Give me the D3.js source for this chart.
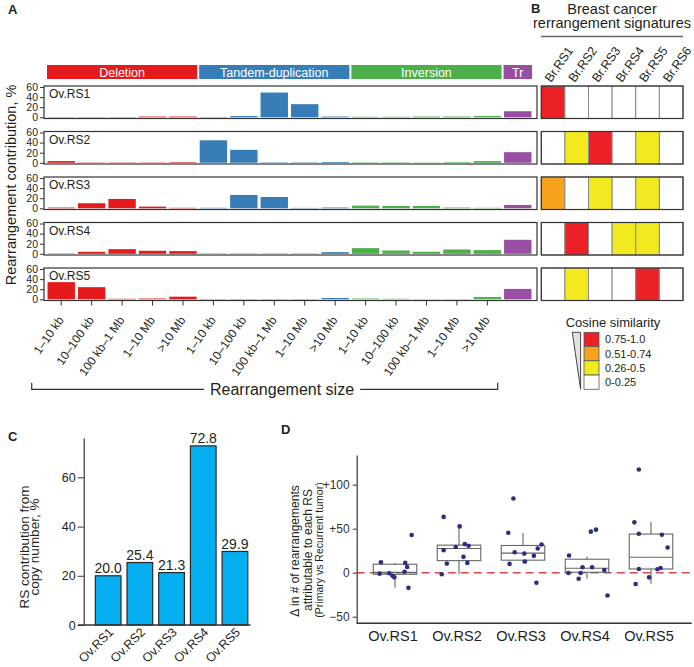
<!DOCTYPE html>
<html><head><meta charset="utf-8">
<script src="https://cdn.jsdelivr.net/npm/d3@7"></script>
<style>
body{margin:0;background:#fff}
svg{display:block}
text{font-family:"Liberation Sans",Arial,Helvetica,sans-serif;fill:#231f20}
</style>
</head><body>
<svg id="chart" width="694" height="667"></svg>
<script>
// ---------------- DATA ----------------
const signatures = ["Ov.RS1","Ov.RS2","Ov.RS3","Ov.RS4","Ov.RS5"];
const rearrTypes = ["Deletion","Tandem-duplication","Inversion","Tr"];
const sizeBins = ["1–10 kb","10–100 kb","100 kb–1 Mb","1–10 Mb",">10 Mb"];
const typeColors = ["#e41a1c","#377eb8","#4daf4a","#984ea3"];

// Panel A: contribution (%) — 5 deletion, 5 tandem-dup, 5 inversion, 1 translocation
const contribRS1 = [0.6,0.6,0.6,1.5,1.5, 0.6,2.5,49,26,1.5, 1,1,1.5,1.5,2.5, 12];
const contribRS2 = [3.4,0.6,0.6,0.6,1.2, 44.6,25.7,0.8,0.8,1.5, 0.8,0.8,0.6,1.2,3.4, 21];
const contribRS3 = [1.5,10,18.5,3.3,1, 1,26.4,22.4,0.8,1.5, 5.3,4.6,4.6,1.5,1, 6.6];
const contribRS4 = [0.6,4,9.2,6,5.3, 0.6,0.6,0.6,0.6,3.3, 11.2,6.6,4,8.6,7.3, 27.7];
const contribRS5 = [34,24,1,1.5,5.2, 0.6,0.6,0.6,0.6,2.6, 1.5,1,0.5,0.5,4.5, 20.6];
const contribTicks = [0,20,40,60];

// Panel B: cosine similarity class (0: 0-0.25, 1: 0.26-0.5, 2: 0.51-0.74, 3: 0.75-1.0)
const breastSigs = ["Br.RS1","Br.RS2","Br.RS3","Br.RS4","Br.RS5","Br.RS6"];
const cosineRS1 = [3,0,0,0,0,0];
const cosineRS2 = [0,1,3,0,1,0];
const cosineRS3 = [2,0,1,0,1,0];
const cosineRS4 = [0,3,0,1,1,0];
const cosineRS5 = [0,1,0,0,3,0];
const cosineLabels = ["0-0.25","0.26-0.5","0.51-0.74","0.75-1.0"];
const cosineColors = ["#ffffff","#f3e91f","#f7a21b","#ec2127"];

// Panel C
const copyNumberContrib = [20.0, 25.4, 21.3, 72.8, 29.9];
const copyTicks = [0,20,40,60];

// Panel D: delta in # rearrangements (values) and horizontal jitter (fraction of band)
const deltaRS1 = [11.9,11.1,42.8,6.5,-1.1,-0.7,-3.4,-5.3,1.1,-17.2];
const jitterRS1 = [-0.22,0.16,0.26,0.19,-0.24,-0.09,-0.04,-0.01,0.15,0.21];
const deltaRS2 = [63.4,52.6,25.6,29.1,32.5,30.6,18,10.3,11.1,-1.8];
const jitterRS2 = [-0.24,0.01,-0.24,-0.05,0.09,0.15,0.07,-0.19,0.13,-0.27];
const deltaRS3 = [84.3,45.4,23.3,21.7,19.1,27.5,32,12.6,10,-11.4];
const jitterRS3 = [-0.15,-0.23,-0.13,0.02,0.17,0.23,0.29,0.03,-0.21,0.21];
const deltaRS4 = [19.5,46.6,48.9,-0.3,-0.3,-6.9,6.2,6.2,3.1,-25.9];
const jitterRS4 = [-0.28,0.06,0.14,-0.29,-0.10,-0.13,-0.07,0.08,0.27,0.32];
const deltaRS5 = [117.2,57.2,44.3,43.1,28.6,4.2,3.9,5.4,-5.3,-12.9];
const jitterRS5 = [-0.19,-0.26,-0.19,0.17,0.26,-0.19,0.10,0.15,-0.03,-0.24];
const boxQ1 = [-1.8,13.7,14.2,0.5,4.2];
const boxMedian = [0.3,27.5,22.2,5,17.6];
const boxQ3 = [9.6,31.3,30.9,15.3,43.9];
const whiskerLo = [-17,-1.8,10.7,-6.9,-12.6];
const whiskerHi = [11,52.6,45,18.3,57.7];
const deltaTicks = [-50,0,50,100];

// ---------------- DRAW ----------------
const svg = d3.select("#chart");
const F = "Liberation Sans,Arial,Helvetica,sans-serif";

// ===== Panel A =====
svg.append("text").attr("x",8).attr("y",14).attr("font-size",13).attr("font-weight","bold").text("A");

const cats = [];
rearrTypes.slice(0,3).forEach((t,ti)=>sizeBins.forEach(b=>cats.push({id:t+"|"+b,type:ti,label:b})));
cats.push({id:"Tr",type:3,label:""});
const xA = d3.scaleBand().domain(cats.map(c=>c.id)).range([46,533]).paddingInner(0.1).paddingOuter(0.05);
const stepA = xA.step(), halfGap = stepA*xA.paddingInner()/2;

// type header bars
rearrTypes.forEach((t,ti)=>{
  const members = cats.filter(c=>c.type===ti);
  const x0 = xA(members[0].id)-halfGap+1;
  const x1 = xA(members[members.length-1].id)+xA.bandwidth()+halfGap-1;
  svg.append("rect").attr("x",x0).attr("y",65).attr("width",x1-x0).attr("height",14).attr("fill",typeColors[ti]);
  svg.append("text").attr("x",(x0+x1)/2).attr("y",76.5).attr("text-anchor","middle")
    .attr("font-size",12.5).style("fill","#fff").text(t);
});

const contribAll = [contribRS1,contribRS2,contribRS3,contribRS4,contribRS5];
const panelTop = i => 86 + i*45.5;
const panelH = 32.5;
const boxLeft = 44, boxRight = 537;

contribAll.forEach((vals,i)=>{
  const top = panelTop(i);
  const y = d3.scaleLinear().domain([0,60]).range([top+panelH-1.2, top+1]);
  const g = svg.append("g");
  g.selectAll("rect.bar").data(vals).join("rect").attr("class","bar")
    .attr("x",(d,k)=>xA(cats[k].id)).attr("width",xA.bandwidth())
    .attr("y",d=>y(d)).attr("height",d=>y(0)-y(d))
    .attr("fill",(d,k)=>typeColors[cats[k].type]);
  g.append("rect").attr("x",boxLeft).attr("y",top).attr("width",boxRight-boxLeft).attr("height",panelH)
    .attr("fill","none").attr("stroke","#333").attr("stroke-width",1.2);
  const ax = g.append("g").attr("transform",`translate(${boxLeft},0)`)
    .call(d3.axisLeft(y).tickValues(contribTicks).tickSize(4).tickPadding(2));
  ax.select(".domain").remove();
  ax.selectAll(".tick line").attr("stroke","#333");
  ax.selectAll(".tick text").attr("font-size",10.5).attr("font-family",F).style("fill","#231f20");
  g.append("text").attr("x",49).attr("y",top+12).attr("font-size",12).text(signatures[i]);
});

// x ticks + rotated labels under last panel
const bottomA = panelTop(4)+panelH;
const tickCats = cats.filter(c=>c.label!=="");
svg.selectAll("line.xtA").data(tickCats).join("line").attr("class","xtA")
  .attr("x1",d=>xA(d.id)+xA.bandwidth()/2).attr("x2",d=>xA(d.id)+xA.bandwidth()/2)
  .attr("y1",bottomA).attr("y2",bottomA+5).attr("stroke","#333");
svg.selectAll("text.xlA").data(tickCats).join("text").attr("class","xlA")
  .attr("transform",d=>`translate(${xA(d.id)+xA.bandwidth()/2+3},320) rotate(-55)`)
  .attr("text-anchor","end").attr("font-size",12).text(d=>d.label);

// Rearrangement size bracket
const bracketY = 389.3;
const sizeLabel = svg.append("text").attr("x",282).attr("y",bracketY+5.5).attr("text-anchor","middle")
  .attr("font-size",16).text("Rearrangement size");
const bb = sizeLabel.node().getBBox();
const brk = svg.append("g").attr("stroke","#333").attr("stroke-width",1.2).attr("fill","none");
brk.append("path").attr("d",`M31.7,${bracketY-6.5}V${bracketY}H${bb.x-6}`);
brk.append("path").attr("d",`M${bb.x+bb.width+6},${bracketY}H497.7V${bracketY-6.5}`);

// y title
svg.append("text").attr("transform","translate(16,185) rotate(-90)").attr("text-anchor","middle")
  .attr("font-size",14.5).text("Rearrangement contribution, %");

// ===== Panel B =====
svg.append("text").attr("x",531).attr("y",13).attr("font-size",13).attr("font-weight","bold").text("B");
svg.append("text").attr("x",612).attr("y",13.5).attr("text-anchor","middle").attr("font-size",14.5).text("Breast cancer");
svg.append("text").attr("x",612).attr("y",28).attr("text-anchor","middle").attr("font-size",14.5).text("rerrangement signatures");
svg.append("line").attr("x1",541).attr("x2",683).attr("y1",36.5).attr("y2",36.5).attr("stroke","#666").attr("stroke-width",1.5);

const xB = d3.scaleBand().domain(breastSigs).range([541.3,683]);
svg.selectAll("text.colB").data(breastSigs).join("text").attr("class","colB")
  .attr("transform",d=>`translate(${xB(d)+xB.bandwidth()/2-2},83) rotate(-55)`)
  .attr("font-size",12.5).text(d=>d);

const cosineAll = [cosineRS1,cosineRS2,cosineRS3,cosineRS4,cosineRS5];
cosineAll.forEach((row,i)=>{
  const top = panelTop(i);
  const g = svg.append("g");
  g.selectAll("rect").data(row).join("rect")
    .attr("x",(d,k)=>xB(breastSigs[k])).attr("y",top).attr("width",xB.bandwidth()).attr("height",panelH)
    .attr("fill",d=>cosineColors[d]).attr("stroke","#888").attr("stroke-width",1);
  g.append("rect").attr("x",xB.range()[0]).attr("y",top).attr("width",xB.range()[1]-xB.range()[0]).attr("height",panelH)
    .attr("fill","none").attr("stroke","#333").attr("stroke-width",1.2);
});

// legend
svg.append("text").attr("x",613).attr("y",327).attr("text-anchor","middle").attr("font-size",13).text("Cosine similarity");
svg.append("path").attr("d","M572.3,332.3H580.6V389.3Z").attr("fill","#e2e2e2").attr("stroke","#444").attr("stroke-width",1);
const legOrder = [3,2,1,0];
const legY = d3.scaleBand().domain(legOrder).range([332.3,389.3]);
legOrder.forEach(lv=>{
  svg.append("rect").attr("x",584).attr("y",legY(lv)).attr("width",15).attr("height",legY.bandwidth())
    .attr("fill",cosineColors[lv]).attr("stroke","#555").attr("stroke-width",0.8);
  svg.append("text").attr("x",605).attr("y",legY(lv)+legY.bandwidth()/2+4).attr("font-size",11).text(cosineLabels[lv]);
});

// ===== Panel C =====
svg.append("text").attr("x",8).attr("y",441).attr("font-size",13).attr("font-weight","bold").text("C");
const yC = d3.scaleLinear().domain([0,76]).range([625,438]);
const xC = d3.scaleBand().domain(signatures).range([92.3,250.8]).paddingInner(0.19).paddingOuter(0.095);
svg.selectAll("rect.barC").data(copyNumberContrib).join("rect").attr("class","barC")
  .attr("x",(d,i)=>xC(signatures[i])).attr("width",xC.bandwidth())
  .attr("y",d=>yC(d)).attr("height",d=>yC(0)-yC(d))
  .attr("fill","#04aeef").attr("stroke","#2a2a2a").attr("stroke-width",1.2);
svg.selectAll("text.valC").data(copyNumberContrib).join("text").attr("class","valC")
  .attr("x",(d,i)=>xC(signatures[i])+xC.bandwidth()/2).attr("y",d=>yC(d)-2.5)
  .attr("text-anchor","middle").attr("font-size",14).text(d=>d.toFixed(1));
const axC = svg.append("g").attr("transform","translate(83.7,0)")
  .call(d3.axisLeft(yC).tickValues(copyTicks).tickSize(6).tickPadding(2).tickSizeOuter(0));
axC.select(".domain").attr("stroke","#333").attr("stroke-width",1.2);
axC.selectAll(".tick line").attr("stroke","#333");
axC.selectAll(".tick text").attr("font-size",12.5).attr("font-family",F).style("fill","#231f20");
svg.append("line").attr("x1",78).attr("x2",250.5).attr("y1",625).attr("y2",625).attr("stroke","#333").attr("stroke-width",1.4);
svg.selectAll("text.xlC").data(signatures).join("text").attr("class","xlC")
  .attr("transform",d=>`translate(${xC(d)+xC.bandwidth()/2+6},633) rotate(-45)`)
  .attr("text-anchor","end").attr("font-size",12.5).text(d=>d);
svg.append("text").attr("transform","translate(29,547) rotate(-90)").attr("text-anchor","middle").attr("font-size",13.5).text("RS contribution from");
svg.append("text").attr("transform","translate(39,547) rotate(-90)").attr("text-anchor","middle").attr("font-size",13.5).text("copy number, %");

// ===== Panel D =====
svg.append("text").attr("x",281).attr("y",434).attr("font-size",13).attr("font-weight","bold").text("D");
const yD = d3.scaleLinear().domain([-57.5,133.7]).range([623.3,455]);
const xD = d3.scaleBand().domain(signatures).range([363,683]);
const dLeft = 356.7, dRight = 691.7;

svg.append("line").attr("x1",dLeft).attr("x2",dRight).attr("y1",yD(0)).attr("y2",yD(0))
  .attr("stroke","#e0474c").attr("stroke-width",1.5).attr("stroke-dasharray","8,5");

const deltaAll = [deltaRS1,deltaRS2,deltaRS3,deltaRS4,deltaRS5];
const jitterAll = [jitterRS1,jitterRS2,jitterRS3,jitterRS4,jitterRS5];
const bw = xD.step()*0.68;
signatures.forEach((s,i)=>{
  const cx = xD(s)+xD.bandwidth()/2;
  const g = svg.append("g").attr("stroke","#666").attr("stroke-width",1.1).attr("fill","none");
  g.append("line").attr("x1",cx).attr("x2",cx).attr("y1",yD(whiskerHi[i])).attr("y2",yD(boxQ3[i]));
  g.append("line").attr("x1",cx).attr("x2",cx).attr("y1",yD(boxQ1[i])).attr("y2",yD(whiskerLo[i]));
  g.append("rect").attr("x",cx-bw/2).attr("width",bw).attr("y",yD(boxQ3[i])).attr("height",yD(boxQ1[i])-yD(boxQ3[i]));
  g.append("line").attr("x1",cx-bw/2).attr("x2",cx+bw/2).attr("y1",yD(boxMedian[i])).attr("y2",yD(boxMedian[i]));
  svg.append("g").selectAll("circle").data(deltaAll[i]).join("circle")
    .attr("cx",(d,k)=>cx+jitterAll[i][k]*xD.step()).attr("cy",d=>yD(d)).attr("r",2.3).attr("fill","#2b2d84");
});

const axD = svg.append("g").attr("transform",`translate(${dLeft},0)`)
  .call(d3.axisLeft(yD).tickValues(deltaTicks).tickSize(4).tickPadding(3).tickSizeOuter(0)
    .tickFormat(d=>d>0?"+"+d:(d<0?"−"+Math.abs(d):"0")));
axD.select(".domain").attr("stroke","#333").attr("stroke-width",1.2);
axD.selectAll(".tick line").attr("stroke","#333");
axD.selectAll(".tick text").attr("font-size",12).attr("font-family",F).style("fill","#333");
svg.append("line").attr("x1",dLeft).attr("x2",dRight).attr("y1",623.3).attr("y2",623.3).attr("stroke","#333").attr("stroke-width",1.4);
svg.selectAll("text.xlD").data(signatures).join("text").attr("class","xlD")
  .attr("x",d=>xD(d)+xD.bandwidth()/2-2).attr("y",641).attr("text-anchor","middle").attr("font-size",14.5).text(d=>d);
svg.append("text").attr("transform","translate(299,551) rotate(-90)").attr("text-anchor","middle").attr("font-size",12).text("Δ in # of rearrangements");
svg.append("text").attr("transform","translate(311.5,550) rotate(-90)").attr("text-anchor","middle").attr("font-size",12).text("attributable to each RS");
svg.append("text").attr("transform","translate(322.5,550) rotate(-90)").attr("text-anchor","middle").attr("font-size",10.5).text("(Primary vs Recurrent tumor)");
</script>
</body></html>
